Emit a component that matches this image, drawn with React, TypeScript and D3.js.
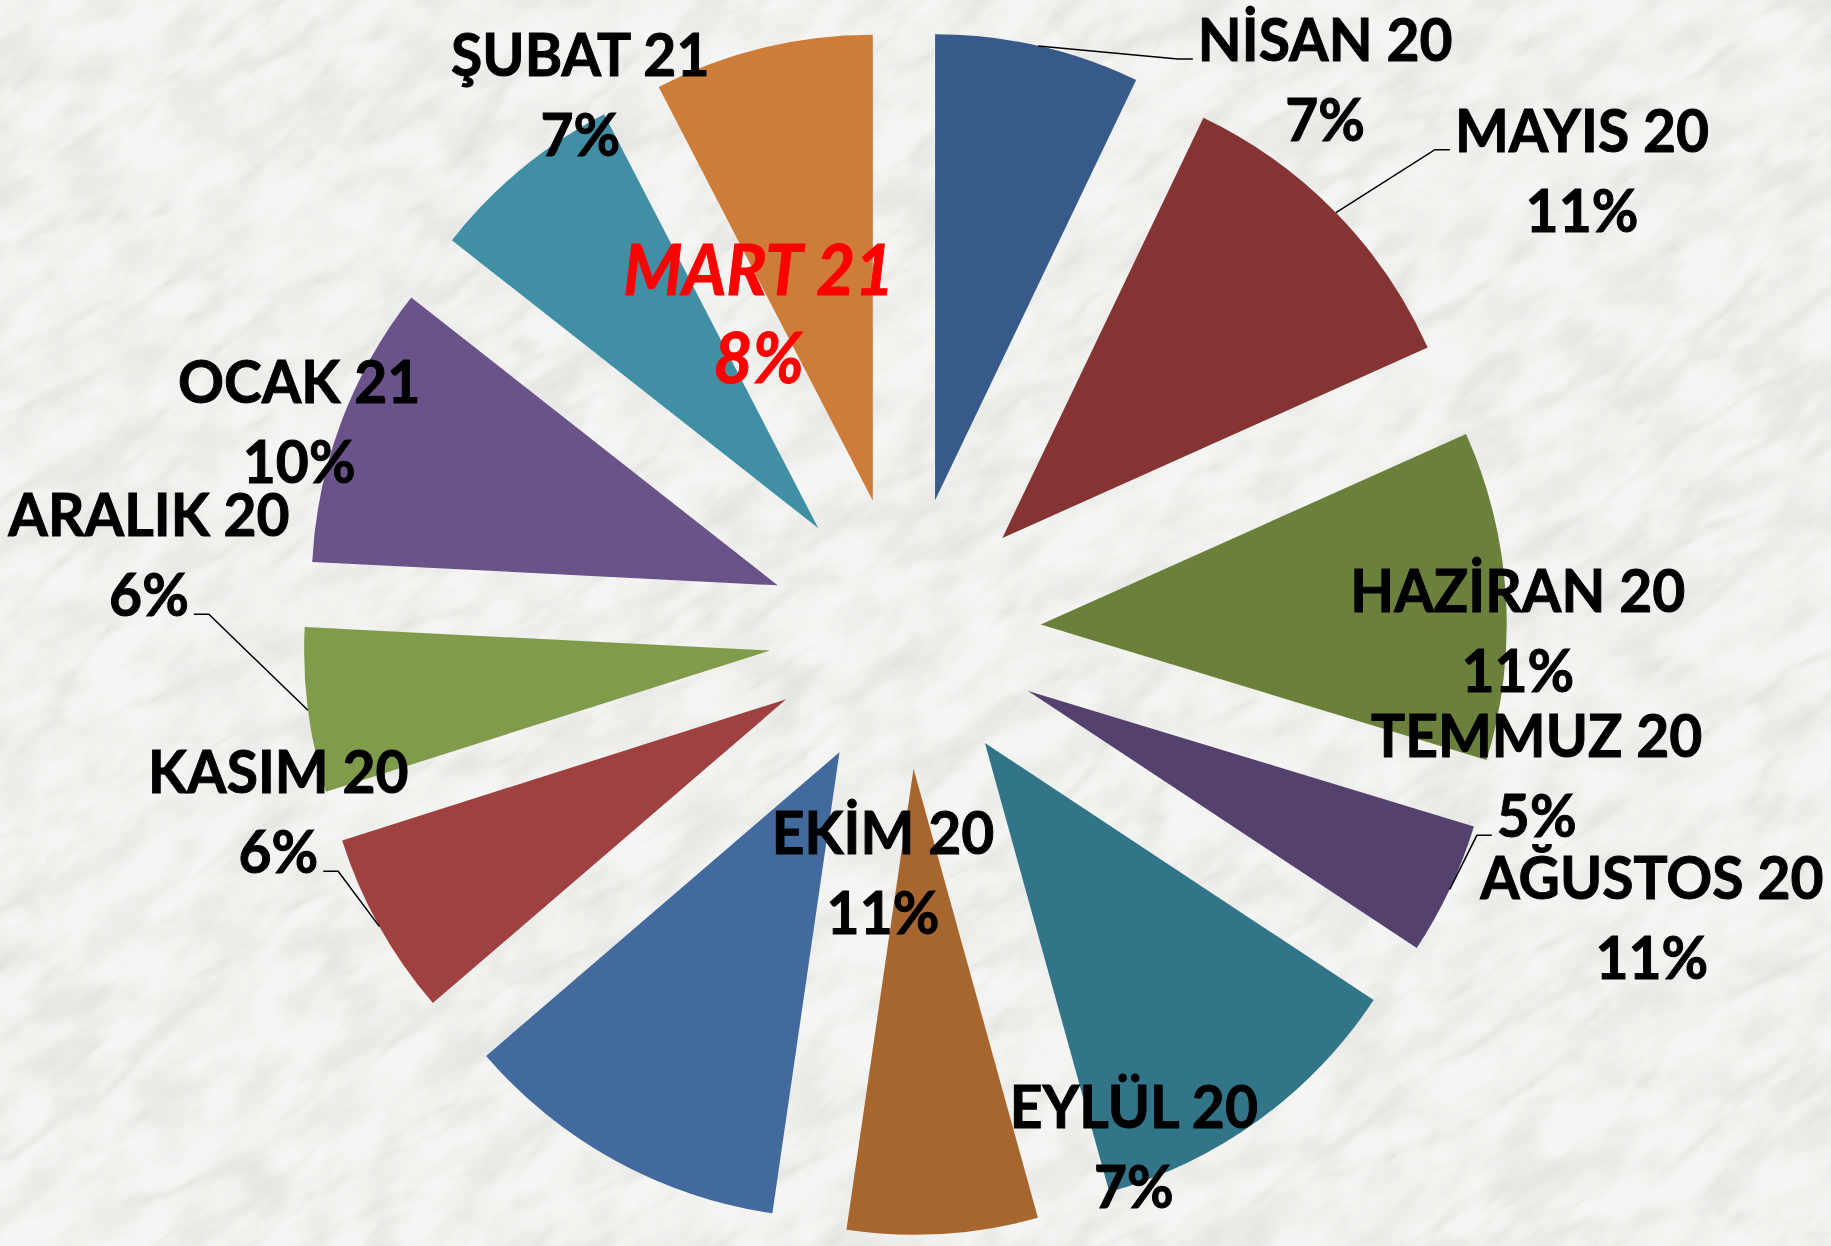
import React, { useEffect, useRef } from "react";
import * as d3 from "d3";

// monthly shares (%), clockwise from 12 o'clock
const months = ["NİSAN 20", "MAYIS 20", "HAZİRAN 20", "TEMMUZ 20", "AĞUSTOS 20", "EYLÜL 20", "EKİM 20", "KASIM 20", "ARALIK 20", "OCAK 21", "ŞUBAT 21", "MART 21"];
const shares = [7.1, 11.2, 11.4, 4.6, 11.4, 6.6, 11.4, 6.4, 5.7, 9.8, 6.8, 7.6];
const percentLabels = ["7%", "11%", "11%", "5%", "11%", "7%", "11%", "6%", "6%", "10%", "7%", "8%"];

const colors = ["#365A8A", "#843533", "#6B803A", "#54416E", "#327588", "#A8662F", "#436A9D", "#9E4140", "#809B4A", "#6A5388", "#418FA5", "#CE7C3A"];

// label shift from the outer-arc midpoint of each exploded slice
const labelNudge = [[287, 15], [246, -61], [12, 17], [87, -132], [393, -221], [191, -106], [268, -307], [-101, -133], [-159, -174], [-42, -19], [59, -93], [-4, 247]];
// leader lines: which text line they meet, and on which side
const leaders: Record<number, [number, string]> = { 0: [0, "left"], 1: [0, "left"], 3: [1, "left"], 7: [1, "right"], 8: [1, "right"] };

const W = 1831;
const H = 1246;

export default function App() {
  const ref = useRef<SVGSVGElement>(null);

  const cx = 905, cy = 633, radius = 466, explode = 136;

  useEffect(() => {
    const svg = d3.select(ref.current);
    svg.selectAll("*").remove();

    const defs = svg.append("defs");
    const f = defs.append("filter").attr("id", "marble")
      .attr("filterUnits", "userSpaceOnUse")
      .attr("x", -1500).attr("y", -1500).attr("width", 4800).attr("height", 4300);
    f.append("feTurbulence").attr("type", "turbulence")
      .attr("baseFrequency", "0.004 0.012").attr("numOctaves", 5).attr("seed", 7).attr("result", "t");
    f.append("feColorMatrix").attr("in", "t").attr("type", "matrix")
      .attr("values", "0 0 0 0 0.55  0 0 0 0 0.55  0 0 0 0 0.53  -2.6 0 0 0 0.6").attr("result", "veins");
    f.append("feTurbulence").attr("type", "fractalNoise")
      .attr("baseFrequency", "0.015 0.03").attr("numOctaves", 4).attr("seed", 3).attr("result", "n");
    f.append("feColorMatrix").attr("in", "n").attr("type", "matrix")
      .attr("values", "0 0 0 0 0.62  0 0 0 0 0.62  0 0 0 0 0.6  0 0 0 1.4 -0.5").attr("result", "mottle");
    const m = f.append("feMerge");
    m.append("feMergeNode").attr("in", "mottle");
    m.append("feMergeNode").attr("in", "veins");

    svg.append("rect").attr("width", W).attr("height", H).attr("fill", "#f5f5f3");
    svg.append("g")
      .attr("transform", `rotate(-35, ${W / 2}, ${H / 2})`)
      .attr("opacity", 0.5)
      .append("rect")
      .attr("x", -1000).attr("y", -1000).attr("width", 3831).attr("height", 3246)
      .attr("fill", "#fff")
      .attr("filter", "url(#marble)");

    const pie = d3.pie<number>().sort(null).value(d => d);
    const arcs = pie(shares);
    const arc = d3.arc<d3.PieArcDatum<number>>().innerRadius(0).outerRadius(radius);

    const mid = (d: d3.PieArcDatum<number>) => (d.startAngle + d.endAngle) / 2;

    svg.append("g").selectAll("path").data(arcs).enter().append("path")
      .attr("transform", d => `translate(${cx + Math.sin(mid(d)) * explode},${cy - Math.cos(mid(d)) * explode})`)
      .attr("d", arc)
      .attr("fill", (d, i) => colors[i]);

    const labels = svg.append("g");
    arcs.forEach((d, i) => {
      const a = mid(d);
      const ax = cx + Math.sin(a) * (explode + radius);
      const ay = cy - Math.cos(a) * (explode + radius);
      const x = ax + labelNudge[i][0];
      const y = ay + labelNudge[i][1];
      const isLast = i === arcs.length - 1;
      const size = isLast ? 71 : 60;
      const gap = isLast ? 88 : 80;
      const fill = isLast ? "#FF0000" : "#000";
      const lines = [months[i], percentLabels[i]].map((t, k) =>
        labels.append("text")
          .attr("transform", `translate(${x},${y + k * gap}) scale(0.95,1)`)
          .attr("text-anchor", "middle")
          .attr("font-family", "Lato, 'Open Sans', sans-serif")
          .attr("font-weight", 700)
          .attr("font-style", isLast ? "italic" : "normal")
          .attr("font-size", size)
          .attr("fill", fill)
          .attr("stroke", fill)
          .attr("stroke-width", 1)
          .text(t)
      );

      const ld = leaders[i];
      if (ld) {
        const node = lines[ld[0]].node() as SVGTextElement;
        const bb = node.getBoundingClientRect();
        const sb = (ref.current as SVGSVGElement).getBoundingClientRect();
        const base = y + ld[0] * gap - 2;
        const left = ld[1] === "left";
        const endX = left ? bb.left - sb.left - 5 : bb.right - sb.left + 5;
        const elbowX = left ? endX - 15 : endX + 15;
        svg.append("path")
          .attr("d", d3.line()([[ax, ay], [elbowX, base], [endX, base]]))
          .attr("fill", "none")
          .attr("stroke", "#000")
          .attr("stroke-width", 1.5);
      }
    });
  }, []);

  return (
    <svg ref={ref} width={W} height={H} style={{ position: "absolute", left: 0, top: 0, display: "block" }} />
  );
}
